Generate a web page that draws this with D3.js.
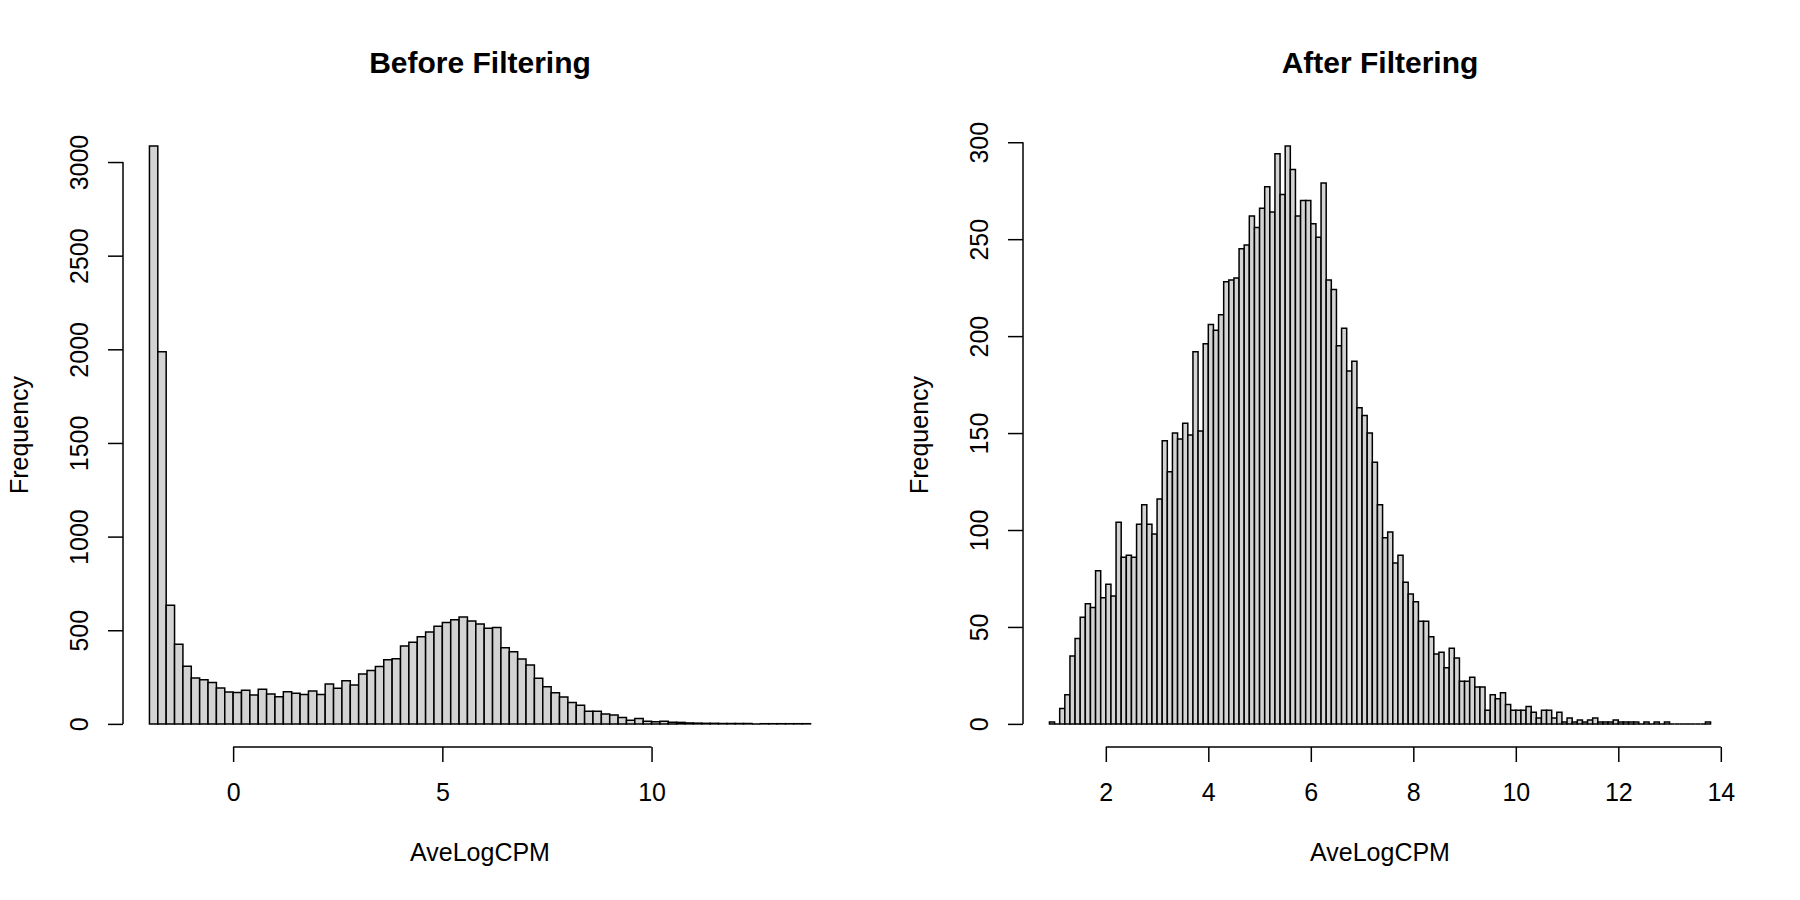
<!DOCTYPE html>
<html lang="en">
<head>
<meta charset="UTF-8">
<title>AveLogCPM before / after filtering</title>
<script src="https://d3js.org/d3.v7.min.js"></script>
<style>
  body { margin: 0; background: #fff; }
  svg { display: block; background: #fff; font-family: "Liberation Sans", Arial, Helvetica, sans-serif; }
  .bar { fill: #d3d3d3; stroke: #000; stroke-width: 1.5; }
  .title { font-size: 30px; font-weight: bold; text-anchor: middle; }
  .lab { font-size: 25px; text-anchor: middle; }
</style>
</head>
<body>
<svg width="1800" height="900"></svg>
<script>
// Histogram bins: first break and bin width, then counts per bin
const beforeStart = -2.0, beforeBinWidth = 0.2;
const beforeCounts = [
  3085, 1987, 633, 425, 308, 245, 236, 221, 191, 170,
  168, 180, 154, 185, 160, 145, 172, 164, 157, 175,
  157, 213, 190, 230, 207, 266, 285, 306, 342, 348,
  416, 436, 465, 490, 521, 542, 556, 571, 549, 534,
  511, 515, 406, 385, 346, 314, 244, 198, 166, 143,
  114, 100, 68, 68, 53, 48, 34, 20, 29, 14,
  12, 14, 9, 8, 5, 4, 3, 3, 2, 2,
  2, 2, 0, 1, 1, 1, 1, 1, 1
];

const afterStart = 0.9, afterBinWidth = 0.1;
const afterCounts = [
  1, 0, 8, 15, 35, 44, 55, 62, 60, 79,
  65, 72, 66, 104, 86, 87, 86, 103, 113, 103,
  98, 116, 146, 130, 150, 147, 155, 149, 192, 151,
  196, 206, 203, 211, 228, 229, 230, 245, 247, 262,
  256, 266, 277, 264, 294, 273, 298, 286, 262, 270,
  270, 258, 251, 279, 229, 224, 195, 204, 182, 187,
  163, 159, 150, 135, 113, 96, 99, 83, 87, 73,
  67, 63, 53, 53, 45, 36, 37, 29, 39, 34,
  22, 22, 24, 19, 19, 7, 15, 13, 16, 10,
  7, 7, 7, 9, 6, 3, 7, 7, 3, 6,
  1, 3, 1, 2, 1, 2, 3, 1, 1, 1,
  2, 1, 1, 1, 1, 0, 1, 0, 1, 0,
  1, 0, 0, 0, 0, 0, 0, 0, 1
];

const beforeXTicks = [0, 5, 10];
const beforeYTicks = [0, 500, 1000, 1500, 2000, 2500, 3000];
const afterXTicks = [2, 4, 6, 8, 10, 12, 14];
const afterYTicks = [0, 50, 100, 150, 200, 250, 300];

const titles = ["Before Filtering", "After Filtering"];
const xLabel = "AveLogCPM", yLabel = "Frequency";

const svg = d3.select("svg");
const plot = {left: 123, right: 837, top: 123, bottom: 747};

function drawPanel(ox, title, start, binWidth, counts, xTicks, yTicks) {
  const bins = counts.map((c, i) => ({lo: start + i * binWidth, hi: start + (i + 1) * binWidth, c: c}));
  const xMin = start, xMax = start + counts.length * binWidth;
  const xPad = 0.04 * (xMax - xMin);
  const x = d3.scaleLinear().domain([xMin - xPad, xMax + xPad]).range([ox + plot.left, ox + plot.right]);
  const yMax = d3.max(counts), yPad = 0.04 * yMax;
  const y = d3.scaleLinear().domain([-yPad, yMax + yPad]).range([plot.bottom, plot.top]);

  const g = svg.append("g");

  // bars as closed paths so empty bins still show as a line on the baseline
  g.selectAll("path.bar")
    .data(bins)
    .join("path")
    .attr("class", "bar")
    .attr("d", d => `M${x(d.lo)},${y(0)}V${y(d.c)}H${x(d.hi)}V${y(0)}Z`);

  // x axis, R style: line only from first to last tick
  const xa = g.append("g")
    .attr("transform", `translate(0,${plot.bottom})`)
    .call(d3.axisBottom(x).tickValues(xTicks).tickFormat(d3.format("d")).tickSize(15).tickSizeOuter(0));
  xa.select(".domain").attr("d", `M${x(xTicks[0])},0H${x(xTicks[xTicks.length - 1])}`);
  xa.selectAll("line, path").attr("stroke", "#000").attr("stroke-width", 1.5);
  xa.attr("font-family", null).attr("font-size", null);
  xa.selectAll("text").attr("class", "lab").attr("fill", "#000")
    .attr("y", 54).attr("dy", null);

  const ya = g.append("g")
    .attr("transform", `translate(${ox + plot.left},0)`)
    .call(d3.axisLeft(y).tickValues(yTicks).tickFormat(d3.format("d")).tickSize(15).tickSizeOuter(0));
  ya.select(".domain").attr("d", `M0,${y(yTicks[0])}V${y(yTicks[yTicks.length - 1])}`);
  ya.selectAll("line, path").attr("stroke", "#000").attr("stroke-width", 1.5);
  ya.attr("font-family", null).attr("font-size", null);
  ya.selectAll("text").attr("class", "lab").attr("fill", "#000")
    .attr("x", null).attr("dy", null)
    .attr("transform", "translate(-35,0) rotate(-90)");

  g.append("text").attr("class", "title")
    .attr("x", ox + (plot.left + plot.right) / 2).attr("y", 73)
    .text(title);

  g.append("text").attr("class", "lab")
    .attr("x", ox + (plot.left + plot.right) / 2).attr("y", 861)
    .text(xLabel);

  g.append("text").attr("class", "lab")
    .attr("transform", `translate(${ox + 28},${(plot.top + plot.bottom) / 2}) rotate(-90)`)
    .text(yLabel);
}

drawPanel(0, titles[0], beforeStart, beforeBinWidth, beforeCounts, beforeXTicks, beforeYTicks);
drawPanel(900, titles[1], afterStart, afterBinWidth, afterCounts, afterXTicks, afterYTicks);
</script>
</body>
</html>
